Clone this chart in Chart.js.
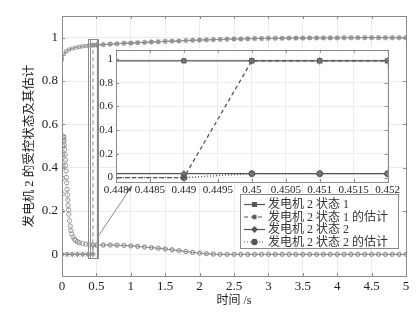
<!DOCTYPE html>
<html>
<head>
<meta charset="utf-8">
<script src="https://cdn.jsdelivr.net/npm/chart.js@4.4.1/dist/chart.umd.min.js"></script>
<style>
  html, body { margin: 0; padding: 0; background: #fff; }
  #wrap { position: relative; width: 416px; height: 312px; }
  #main { position: absolute; left: 0; top: 0; width: 416px; height: 312px; }
  #inset { position: absolute; left: 90px; top: 40px; width: 312px; height: 156px; }
</style>
</head>
<body>
<div id="wrap">
  <canvas id="main" width="416" height="312"></canvas>
  <canvas id="inset" width="312" height="156"></canvas>
</div>
<script>
// 图例 / 数据系列名称
const seriesNames = ['发电机 2 状态 1', '发电机 2 状态 1 的估计', '发电机 2 状态 2', '发电机 2 状态 2 的估计'];

// 主图：状态 1
const t1 = [0, 0.03, 0.06, 0.1, 0.15, 0.2, 0.25, 0.3, 0.35, 0.4,
  0.45, 0.5, 0.6, 0.7, 0.8, 0.9, 1.0, 1.1, 1.2, 1.3, 1.4, 1.5, 1.6, 1.7, 1.8, 1.9, 2.0,
  2.1, 2.2, 2.3, 2.4, 2.5, 2.6, 2.7, 2.8, 2.9, 3.0, 3.1, 3.2, 3.3, 3.4, 3.5, 3.6, 3.7, 3.8, 3.9, 4.0,
  4.1, 4.2, 4.3, 4.4, 4.5, 4.6, 4.7, 4.8, 4.9, 5.0];
const s1 = [0.900, 0.925, 0.937, 0.945, 0.950, 0.954, 0.957, 0.960, 0.962, 0.964,
  0.965, 0.966, 0.968, 0.970, 0.972, 0.974, 0.975, 0.977, 0.978, 0.980, 0.981, 0.983, 0.984, 0.985, 0.987, 0.988, 0.989,
  0.990, 0.991, 0.992, 0.993, 0.994, 0.994, 0.995, 0.996, 0.996, 0.997, 0.997, 0.997, 0.998, 0.998, 0.998, 0.999, 0.999, 0.999, 0.999, 0.999,
  1, 1, 1, 1, 1, 1, 1, 1, 1, 1];

// 主图：状态 1 的估计
const t1e = [0, 0.075, 0.15, 0.225, 0.3, 0.375, 0.449,
  0.45, 0.5, 0.6, 0.7, 0.8, 0.9, 1.0, 1.1, 1.2, 1.3, 1.4, 1.5, 1.6, 1.7, 1.8, 1.9, 2.0,
  2.1, 2.2, 2.3, 2.4, 2.5, 2.6, 2.7, 2.8, 2.9, 3.0, 3.1, 3.2, 3.3, 3.4, 3.5, 3.6, 3.7, 3.8, 3.9, 4.0,
  4.1, 4.2, 4.3, 4.4, 4.5, 4.6, 4.7, 4.8, 4.9, 5.0];
const s1e = [0, 0, 0, 0, 0, 0, 0,
  0.965, 0.966, 0.968, 0.970, 0.972, 0.974, 0.975, 0.977, 0.978, 0.980, 0.981, 0.983, 0.984, 0.985, 0.987, 0.988, 0.989,
  0.990, 0.991, 0.992, 0.993, 0.994, 0.994, 0.995, 0.996, 0.996, 0.997, 0.997, 0.997, 0.998, 0.998, 0.998, 0.999, 0.999, 0.999, 0.999, 0.999,
  1, 1, 1, 1, 1, 1, 1, 1, 1, 1];

// 主图：状态 2
const t2 = [0, 0.075, 0.15, 0.225, 0.3, 0.375, 0.449,
  0.45, 0.5, 0.6, 0.7, 0.8, 0.9, 1.0, 1.1, 1.2, 1.3, 1.4, 1.5, 1.6, 1.7, 1.8, 1.9, 2.0,
  2.1, 2.2, 2.3, 2.4, 2.5, 2.6, 2.7, 2.8, 2.9, 3.0, 3.1, 3.2, 3.3, 3.4, 3.5, 3.6, 3.7, 3.8, 3.9, 4.0,
  4.1, 4.2, 4.3, 4.4, 4.5, 4.6, 4.7, 4.8, 4.9, 5.0];
const s2 = [0, 0, 0, 0, 0, 0, 0,
  0.040, 0.042, 0.043, 0.043, 0.042, 0.041, 0.039, 0.037, 0.034, 0.031, 0.028, 0.025, 0.021, 0.017, 0.013, 0.009, 0.006,
  0.003, 0.001, 0, 0, 0, 0, 0, 0, 0, 0, 0, 0, 0, 0, 0, 0, 0, 0, 0, 0,
  0, 0, 0, 0, 0, 0, 0, 0, 0, 0];

// 主图：状态 2 的估计
const t2e = [0, 0.0025, 0.005, 0.0075, 0.01, 0.0125, 0.015, 0.0175, 0.02,
  0.025, 0.03, 0.035, 0.04, 0.045, 0.05, 0.055, 0.06, 0.065, 0.07, 0.075, 0.08, 0.085, 0.09, 0.095, 0.1,
  0.11, 0.12, 0.13, 0.14, 0.16, 0.18, 0.2, 0.225, 0.25, 0.3, 0.35, 0.4, 0.45,
  0.5, 0.6, 0.7, 0.8, 0.9, 1.0, 1.1, 1.2, 1.3, 1.4, 1.5, 1.6, 1.7, 1.8, 1.9, 2.0,
  2.1, 2.2, 2.3, 2.4, 2.5, 2.6, 2.7, 2.8, 2.9, 3.0, 3.1, 3.2, 3.3, 3.4, 3.5, 3.6, 3.7, 3.8, 3.9, 4.0,
  4.1, 4.2, 4.3, 4.4, 4.5, 4.6, 4.7, 4.8, 4.9, 5.0];
const s2e = [0.20, 0.28, 0.35, 0.41, 0.46, 0.50, 0.525, 0.54, 0.545,
  0.54, 0.525, 0.505, 0.485, 0.46, 0.435, 0.41, 0.385, 0.355, 0.33, 0.30, 0.275, 0.25, 0.225, 0.205, 0.185,
  0.155, 0.13, 0.11, 0.095, 0.08, 0.07, 0.063, 0.058, 0.054, 0.05, 0.047, 0.045, 0.044,
  0.042, 0.043, 0.043, 0.042, 0.041, 0.039, 0.037, 0.034, 0.031, 0.028, 0.025, 0.021, 0.017, 0.013, 0.009, 0.006,
  0.003, 0.001, 0, 0, 0, 0, 0, 0, 0, 0, 0, 0, 0, 0, 0, 0, 0, 0, 0, 0,
  0, 0, 0, 0, 0, 0, 0, 0, 0, 0];

// 主图刻度
const xTicks = [0, 0.5, 1, 1.5, 2, 2.5, 3, 3.5, 4, 4.5, 5];
const yTicks = [0, 0.2, 0.4, 0.6, 0.8, 1];

// 局部放大图数据
const insT = [0.447, 0.449, 0.45, 0.451, 0.452];
const insS1 = [0.985, 0.985, 0.985, 0.985, 0.985];
const insS1e = [0, 0, 0.985, 0.985, 0.985];
const insS2 = [0.033, 0.033, 0.033, 0.033, 0.033];
const insS2e = [0, 0, 0.033, 0.033, 0.033];
const insXTicks = [0.448, 0.4485, 0.449, 0.4495, 0.45, 0.4505, 0.451, 0.4515, 0.452];
const insXLabels = ['0.448', '0.4485', '0.449', '0.4495', '0.45', '0.4505', '0.451', '0.4515', '0.452'];
const insYTicks = [0, 0.2, 0.4, 0.6, 0.8, 1];

const pts = (ts, vs) => ts.map((t, i) => ({ x: t, y: vs[i] }));
const serif = "'Liberation Serif', 'Noto Sans CJK SC', serif";
const styles = ['rect', 'star', 'rectRot', 'circle'];
const dashes = [[], [4, 3], [], [1, 2]];

// 边框与向内的刻度线
const boxPlugin = {
  id: 'box',
  beforeDraw(chart, args, opts) {
    if (!opts.fill) return;
    const a = chart.chartArea;
    chart.ctx.save();
    chart.ctx.fillStyle = '#fff';
    chart.ctx.fillRect(a.left, a.top, a.right - a.left, a.bottom - a.top);
    chart.ctx.restore();
  },
  afterDraw(chart) {
    const { ctx, chartArea: a, scales: { x, y } } = chart;
    ctx.save();
    ctx.strokeStyle = '#8a8a8a';
    ctx.lineWidth = 1;
    ctx.beginPath();
    x.ticks.forEach(t => {
      const px = Math.round(x.getPixelForValue(t.value)) + 0.5;
      ctx.moveTo(px, a.bottom); ctx.lineTo(px, a.bottom - 3);
      ctx.moveTo(px, a.top); ctx.lineTo(px, a.top + 3);
    });
    y.ticks.forEach(t => {
      const py = Math.round(y.getPixelForValue(t.value)) + 0.5;
      ctx.moveTo(a.left, py); ctx.lineTo(a.left + 3, py);
      ctx.moveTo(a.right, py); ctx.lineTo(a.right - 3, py);
    });
    ctx.stroke();
    ctx.strokeRect(Math.round(a.left) + 0.5, Math.round(a.top) + 0.5,
      Math.round(a.right - a.left), Math.round(a.bottom - a.top));
    ctx.restore();
  }
};

// 放大框、指示箭头和图例
const annotPlugin = {
  id: 'annot',
  afterDatasetsDraw(chart) {
    const { ctx, scales: { x, y } } = chart;
    ctx.save();
    ctx.strokeStyle = '#8a8a8a';
    ctx.lineWidth = 1;
    const l = Math.round(x.getPixelForValue(0.38)) + 0.5, r = Math.round(x.getPixelForValue(0.52)) + 0.5;
    const tp = Math.round(y.getPixelForValue(0.995)) + 0.5, bt = Math.round(y.getPixelForValue(-0.018)) + 0.5;
    ctx.strokeRect(l, tp, r - l, bt - tp);
    ctx.strokeRect(l + 2, tp, r - l - 3, bt - tp);
    const x0 = x.getPixelForValue(0.523), y0 = y.getPixelForValue(0.082);
    const x1 = x.getPixelForValue(1.017), y1 = y.getPixelForValue(0.316);
    ctx.beginPath(); ctx.moveTo(x0, y0); ctx.lineTo(x1, y1); ctx.stroke();
    const ang = Math.atan2(y1 - y0, x1 - x0);
    ctx.fillStyle = '#555';
    ctx.beginPath();
    ctx.moveTo(x1, y1);
    ctx.lineTo(x1 - 6 * Math.cos(ang - 0.35), y1 - 6 * Math.sin(ang - 0.35));
    ctx.lineTo(x1 - 6 * Math.cos(ang + 0.35), y1 - 6 * Math.sin(ang + 0.35));
    ctx.closePath(); ctx.fill();
    ctx.restore();
  },
  afterDraw(chart) {
    const ctx = chart.ctx;
    ctx.save();
    ctx.fillStyle = '#fff';
    ctx.strokeStyle = '#8a8a8a';
    ctx.fillRect(240, 194, 158, 54);
    ctx.strokeRect(240.5, 194.5, 158, 54);
    ctx.font = '12px ' + serif;
    ctx.textBaseline = 'middle';
    seriesNames.forEach((name, i) => {
      const yy = 204.5 + 12.5 * i;
      ctx.strokeStyle = '#555';
      ctx.lineWidth = 1.2;
      ctx.setLineDash(dashes[i]);
      ctx.beginPath(); ctx.moveTo(244, yy); ctx.lineTo(265, yy); ctx.stroke();
      ctx.setLineDash([]);
      ctx.fillStyle = '#555';
      Chart.helpers.drawPoint(ctx, { pointStyle: styles[i], radius: 2.6, rotation: 0, borderWidth: 1 }, 254.5, yy);
      ctx.fillStyle = '#333';
      ctx.fillText(name, 268, yy + 0.5);
    });
    ctx.restore();
  }
};

const mainColor = '#8c8c8c';
const mainSets = [pts(t1, s1), pts(t1e, s1e), pts(t2, s2), pts(t2e, s2e)];

new Chart(document.getElementById('main'), {
  type: 'line',
  data: {
    datasets: mainSets.map((d, i) => ({
      label: seriesNames[i],
      data: d,
      borderColor: mainColor,
      borderWidth: 1,
      borderDash: dashes[i],
      pointStyle: styles[i],
      pointRadius: i === 1 ? 2.8 : 2.2,
      pointBorderColor: mainColor,
      pointBackgroundColor: 'rgba(0,0,0,0)',
      pointBorderWidth: 0.8,
      tension: 0
    }))
  },
  options: {
    responsive: false,
    animation: false,
    layout: { padding: { top: 16, right: 10, left: 0, bottom: 0 } },
    plugins: { legend: { display: false }, tooltip: { enabled: false }, box: {} },
    scales: {
      x: {
        type: 'linear', min: 0, max: 5,
        afterBuildTicks: s => { s.ticks = xTicks.map(v => ({ value: v })); },
        afterFit: s => { s.height = 36; },
        grid: { color: '#ececec', drawTicks: false },
        border: { display: false },
        ticks: { padding: 3, color: '#222', font: { family: serif, size: 13 }, callback: v => String(v) },
        title: { display: true, text: '时间 /s', color: '#222', font: { family: serif, size: 12 }, padding: { top: 0, bottom: 4 } }
      },
      y: {
        type: 'linear', min: -0.1, max: 1.1,
        afterBuildTicks: s => { s.ticks = yTicks.map(v => ({ value: v })); },
        afterFit: s => { s.width = 62; },
        grid: { color: '#ececec', drawTicks: false },
        border: { display: false },
        ticks: { padding: 4, color: '#222', font: { family: serif, size: 13 }, callback: v => String(v) },
        title: { display: true, text: '发电机 2 的受控状态及其估计', color: '#222', font: { family: serif, size: 12.5 }, padding: { top: 22, bottom: 0 } }
      }
    }
  },
  plugins: [boxPlugin, annotPlugin]
});

const insColor = '#555';
const insSets = [pts(insT, insS1), pts(insT, insS1e), pts(insT, insS2), pts(insT, insS2e)];

new Chart(document.getElementById('inset'), {
  type: 'line',
  data: {
    datasets: insSets.map((d, i) => ({
      label: seriesNames[i],
      data: d,
      borderColor: insColor,
      borderWidth: 1.3,
      borderDash: dashes[i],
      pointStyle: styles[i],
      pointRadius: i === 1 ? 3.6 : 3,
      pointBorderColor: insColor,
      pointBackgroundColor: '#777',
      pointBorderWidth: 1,
      tension: 0
    }))
  },
  options: {
    responsive: false,
    animation: false,
    layout: { padding: { top: 8, right: 10, left: 0, bottom: 0 } },
    plugins: { legend: { display: false }, tooltip: { enabled: false }, box: { fill: true } },
    scales: {
      x: {
        type: 'linear', min: 0.448, max: 0.452,
        afterBuildTicks: s => { s.ticks = insXTicks.map(v => ({ value: v })); },
        afterFit: s => { s.height = 14; },
        grid: { color: '#ededed', drawTicks: false },
        border: { display: false },
        ticks: { padding: 2, color: '#222', maxRotation: 0, autoSkip: false, font: { family: serif, size: 11 },
          callback: (v, i) => insXLabels[i] }
      },
      y: {
        type: 'linear', min: -0.0375, max: 1.08,
        afterBuildTicks: s => { s.ticks = insYTicks.map(v => ({ value: v })); },
        afterFit: s => { s.width = 26; },
        grid: { color: '#ededed', drawTicks: false },
        border: { display: false },
        ticks: { padding: 3, color: '#222', font: { family: serif, size: 11 }, callback: v => String(v) }
      }
    }
  },
  plugins: [boxPlugin]
});
</script>
</body>
</html>
